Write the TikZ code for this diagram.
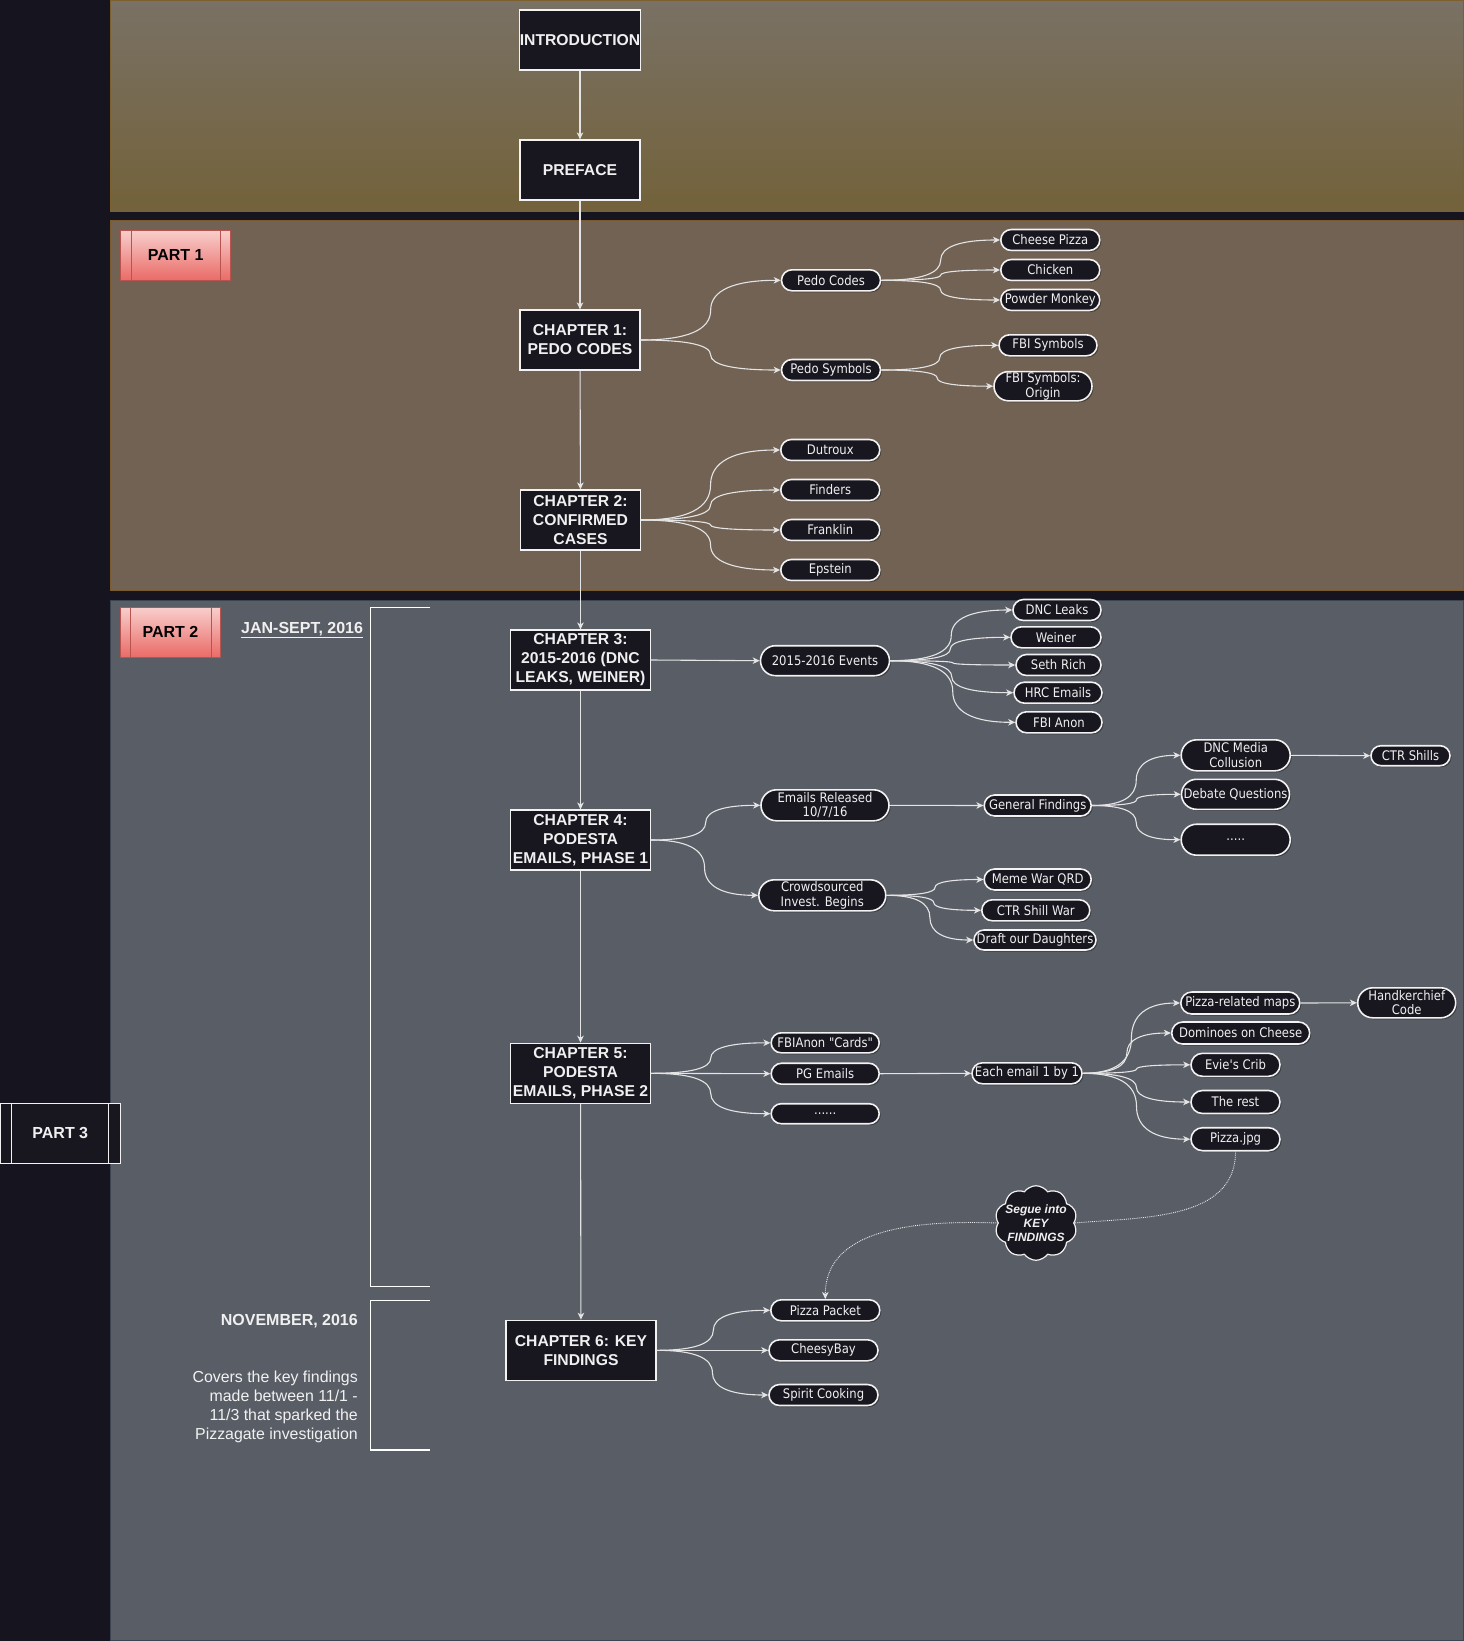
\documentclass[tikz,border=0pt]{standalone}
\usepackage{fontspec}
\setmainfont{Liberation Sans}
\newfontfamily\pillfont{DejaVu Sans}[FakeStretch=0.88]
\usepackage{xcolor}
\usepackage{tikz}
\usetikzlibrary{shapes.misc, shapes.symbols, arrows.meta, shadows, positioning, calc}
\definecolor{bgdark}{HTML}{16141E}
\definecolor{bandtop}{HTML}{797164}
\definecolor{bandbot}{HTML}{73623A}
\definecolor{bandedge}{HTML}{7C6030}
\definecolor{bandone}{HTML}{716254}
\definecolor{bandoneedge}{HTML}{7A5A30}
\definecolor{bandtwo}{HTML}{595D66}
\definecolor{bandtwoedge}{HTML}{3C4452}
\definecolor{boxbg}{HTML}{18161F}
\definecolor{boxline}{HTML}{F2F2F2}
\definecolor{txt}{HTML}{F0F0F0}
\definecolor{conn}{HTML}{E4E4E4}
\definecolor{parttop}{HTML}{F8CECC}
\definecolor{partbot}{HTML}{EA6B66}
\definecolor{partedge}{HTML}{B85450}
\tikzstyle{chapter} = [rectangle, draw=boxline, line width=1.2pt, fill=boxbg, text=txt, font=\bfseries\fontsize{15.7}{19}\selectfont, align=center, inner sep=0pt, minimum width=120pt, minimum height=60pt]
\tikzstyle{topic} = [rounded rectangle, draw=boxline, line width=1.6pt, fill=boxbg, text=txt, font=\pillfont\fontsize{13.2}{14.5}\selectfont, align=center, inner xsep=1pt, inner ysep=1pt, minimum width=100pt, minimum height=21pt, drop shadow={shadow xshift=1.5pt, shadow yshift=-1.5pt, opacity=0.35, fill=black}]
\tikzstyle{partbox} = [rectangle, draw=partedge, line width=1pt, top color=parttop, bottom color=partbot, text=black, font=\bfseries\fontsize{16}{18}\selectfont, minimum width=110pt, minimum height=50pt]
\tikzstyle{arrow} = [draw=conn, line width=1.1pt, -{Stealth[length=7pt, width=6.5pt, inset=2pt]}]
\tikzstyle{segue} = [draw=conn!85, line width=0.9pt, densely dotted]
\tikzstyle{bracket} = [draw=white, line width=1.2pt]
\tikzstyle{period} = [text=txt, font=\bfseries\fontsize{16}{18}\selectfont, inner sep=0pt]
\tikzset{elbow/.style={to path={let \p1=(\tikztostart), \p2=(\tikztotarget) in
  .. controls ({(2*\x1+\x2)/3},\y1) and ({(\x1+\x2)/2},{(5*\y1+\y2)/6}) .. ({(\x1+\x2)/2},{(\y1+\y2)/2})
  .. controls ({(\x1+\x2)/2},{(\y1+5*\y2)/6}) and ({(\x1+2*\x2)/3},\y2) .. (\tikztotarget) \tikztonodes}}}

\begin{document}
\begin{tikzpicture}[x=1pt, y=-1pt]
\useasboundingbox (0,0) rectangle (1464,1641);
% backdrop and bands
\fill [bgdark] (0,0) rectangle (1464,1641);
\path [draw=bandedge, top color=bandtop, bottom color=bandbot] (110,0.5) rectangle (1463,211);
\path [draw=bandoneedge, fill=bandone] (110,220) rectangle (1463,590);
\path [draw=bandtwoedge, fill=bandtwo] (110,600) rectangle (1463,1640);

% parts
\node (part1) [partbox] at (175.7,255.3) {PART 1};
\node (part2) [partbox, minimum width=100pt] at (170.5,632.3) {PART 2};
\node (part3) [partbox, draw=boxline, fill=boxbg, top color=boxbg, bottom color=boxbg, text=txt, minimum width=120pt, minimum height=60pt] at (60.3,1133.3) {PART 3};
\draw [partedge] ([xshift=11pt]part1.north west) -- ([xshift=11pt]part1.south west);
\draw [partedge] ([xshift=-11pt]part1.north east) -- ([xshift=-11pt]part1.south east);
\draw [partedge] ([xshift=10pt]part2.north west) -- ([xshift=10pt]part2.south west);
\draw [partedge] ([xshift=-10pt]part2.north east) -- ([xshift=-10pt]part2.south east);
\draw [boxline, line width=1.2pt] ([xshift=12pt]part3.north west) -- ([xshift=12pt]part3.south west);
\draw [boxline, line width=1.2pt] ([xshift=-12pt]part3.north east) -- ([xshift=-12pt]part3.south east);

% periods
\node (jansept) [period, anchor=base west] at (241,633) {\underline{JAN-SEPT, 2016}};
\node (november) [period, anchor=base east] at (358,1325) {NOVEMBER, 2016};
\node (novnote) [text=txt!92, font=\fontsize{15.9}{19}\selectfont, align=right, inner sep=0pt, anchor=north east] at (358,1370.5) {Covers the key findings\\made between 11/1 -\\11/3 that sparked the\\Pizzagate investigation};
\draw [bracket] (430,607.3) -- (370.7,607.3) -- (370.7,1286.7) -- (430,1286.7);
\draw [bracket] (430,1300.3) -- (370.7,1300.3) -- (370.7,1450) -- (430,1450);

% chapters
\node (intro) [chapter] at (580,40) {INTRODUCTION};
\node (preface) [chapter] at (580,170) {PREFACE};
\node (ch1) [chapter] at (580,340) {CHAPTER 1:\\PEDO CODES};
\node (ch2) [chapter] at (580.5,520) {CHAPTER 2:\\CONFIRMED\\CASES};
\node (ch3) [chapter, minimum width=140pt] at (580.5,660) {CHAPTER 3:\\2015-2016 (DNC\\LEAKS, WEINER)};
\node (ch4) [chapter, minimum width=140pt] at (580.5,840) {CHAPTER 4:\\PODESTA\\EMAILS, PHASE 1};
\node (ch5) [chapter, minimum width=140pt] at (580.5,1073.3) {CHAPTER 5:\\PODESTA\\EMAILS, PHASE 2};
\node (ch6) [chapter, minimum width=150pt] at (581,1350.3) {CHAPTER 6: KEY\\FINDINGS};

% chapter 1
\node (pedocodes) [topic, minimum width=101pt] at (831,280.3) {Pedo Codes};
\node (pedosymbols) [topic, minimum width=101pt] at (831,370) {Pedo Symbols};
\node (cheesepizza) [topic, minimum width=101pt] at (1050.3,240) {Cheese Pizza};
\node (chicken) [topic, minimum width=101pt] at (1050.3,270) {Chicken};
\node (powdermonkey) [topic, minimum width=101pt] at (1050.3,300) {Powder Monkey};
\node (fbisymbols) [topic] at (1048,345.3) {FBI Symbols};
\node (fbiorigin) [topic, minimum height=29pt] at (1043,386.2) {FBI Symbols:\\Origin};

% chapter 2
\node (dutroux) [topic, minimum width=101pt] at (830.3,450) {Dutroux};
\node (finders) [topic, minimum width=101pt] at (830.3,490) {Finders};
\node (franklin) [topic, minimum width=101pt] at (830.3,530) {Franklin};
\node (epstein) [topic, minimum width=101pt] at (830.3,570) {Epstein};

% chapter 3
\node (events) [topic, minimum width=131pt, minimum height=30pt] at (825,660.7) {2015-2016 Events};
\node (dncleaks) [topic, minimum width=90pt] at (1057,610) {DNC Leaks};
\node (weiner) [topic, minimum width=92pt] at (1056,637.3) {Weiner};
\node (sethrich) [topic, minimum width=87pt] at (1058.5,665) {Seth Rich};
\node (hrcemails) [topic, minimum width=90pt] at (1058,692.7) {HRC Emails};
\node (fbianon) [topic, minimum width=88pt] at (1059,722.3) {FBI Anon};

% chapter 4
\node (released) [topic, minimum width=130pt, minimum height=31pt] at (825,805.3) {Emails Released\\10/7/16};
\node (findings) [topic, minimum width=109pt] at (1037.7,805.5) {General Findings};
\node (dncmedia) [topic, minimum width=111pt, minimum height=31pt] at (1235.7,755.3) {DNC Media\\Collusion};
\node (ctrshills) [topic, minimum width=81pt, minimum height=20pt] at (1410.5,755.7) {CTR Shills};
\node (debate) [topic, minimum width=110pt, minimum height=30pt] at (1235.5,794.3) {Debate Questions};
\node (moreone) [topic, minimum width=111pt, minimum height=31pt] at (1235.7,839.7) {.....};
\node (crowd) [topic, minimum width=129pt, minimum height=31pt] at (822.3,895.3) {Crowdsourced\\Invest. Begins};
\node (memewar) [topic, minimum width=109pt] at (1037.7,879.5) {Meme War QRD};
\node (shillwar) [topic, minimum width=110pt] at (1035.8,910.3) {CTR Shill War};
\node (draft) [topic, minimum width=124pt, minimum height=20pt] at (1035,940) {Draft our Daughters};

% chapter 5
\node (cards) [topic, minimum width=110pt, minimum height=20pt] at (825.2,1042.8) {FBIAnon "Cards"};
\node (pgemails) [topic, minimum width=110pt] at (825.2,1073.7) {PG Emails};
\node (moretwo) [topic, minimum width=110pt, minimum height=20pt] at (825.2,1113.7) {......};
\node (eachemail) [topic, minimum width=112pt] at (1027,1073.3) {Each email 1 by 1};
\node (pizzamaps) [topic, minimum width=121pt, minimum height=22pt] at (1240.3,1003) {Pizza-related maps};
\node (hanky) [topic, minimum width=100pt, minimum height=30pt] at (1406.7,1002.8) {Handkerchief\\Code};
\node (dominoes) [topic, minimum width=140pt, minimum height=22pt] at (1240.7,1033) {Dominoes on Cheese};
\node (eviescrib) [topic, minimum width=91pt, minimum height=23pt] at (1235.5,1064.8) {Evie's Crib};
\node (therest) [topic, minimum width=91pt, minimum height=23pt] at (1235.5,1102) {The rest};
\node (pizzajpg) [topic, minimum width=91pt, minimum height=23pt] at (1235.5,1139.2) {Pizza.jpg};
\node (segue) [cloud, cloud puffs=10, cloud puff arc=110, aspect=1.15, draw=boxline, line width=1.2pt, fill=boxbg, text=txt, font=\bfseries\itshape\fontsize{12}{14}\selectfont, align=center, inner sep=-4pt, minimum width=82pt, minimum height=70pt] at (1036,1223) {Segue into\\KEY\\FINDINGS};

% chapter 6
\node (pizzapacket) [topic, minimum width=111pt] at (825.3,1310.3) {Pizza Packet};
\node (cheesybay) [topic, minimum width=111pt] at (823.5,1350.3) {CheesyBay};
\node (spirit) [topic, minimum width=111pt] at (823.5,1395) {Spirit Cooking};

% spine
\draw [arrow] (intro) -- (preface);
\draw [arrow] (preface) -- (ch1);
\draw [arrow] (ch1) -- (ch2);
\draw [arrow] (ch2) -- (ch3);
\draw [arrow] (ch3) -- (ch4);
\draw [arrow] (ch4) -- (ch5);
\draw [arrow] (ch5) -- (ch6);

% branches
\draw [arrow] (ch1.east) to[elbow] (pedocodes.west);
\draw [arrow] (ch1.east) to[elbow] (pedosymbols.west);
\draw [arrow] (pedocodes.east) to[elbow] (cheesepizza.west);
\draw [arrow] (pedocodes.east) to[elbow] (chicken.west);
\draw [arrow] (pedocodes.east) to[elbow] (powdermonkey.west);
\draw [arrow] (pedosymbols.east) to[elbow] (fbisymbols.west);
\draw [arrow] (pedosymbols.east) to[elbow] (fbiorigin.west);
\draw [arrow] (ch2.east) to[elbow] (dutroux.west);
\draw [arrow] (ch2.east) to[elbow] (finders.west);
\draw [arrow] (ch2.east) to[elbow] (franklin.west);
\draw [arrow] (ch2.east) to[elbow] (epstein.west);
\draw [arrow] (ch3.east) -- (events.west);
\draw [arrow] (events.east) to[elbow] (dncleaks.west);
\draw [arrow] (events.east) to[elbow] (weiner.west);
\draw [arrow] (events.east) to[elbow] (sethrich.west);
\draw [arrow] (events.east) to[elbow] (hrcemails.west);
\draw [arrow] (events.east) to[elbow] (fbianon.west);
\draw [arrow] (ch4.east) to[elbow] (released.west);
\draw [arrow] (ch4.east) to[elbow] (crowd.west);
\draw [arrow] (released.east) -- (findings.west);
\draw [arrow] (findings.east) to[elbow] (dncmedia.west);
\draw [arrow] (findings.east) to[elbow] (debate.west);
\draw [arrow] (findings.east) to[elbow] (moreone.west);
\draw [arrow] (dncmedia.east) -- (ctrshills.west);
\draw [arrow] (crowd.east) to[elbow] (memewar.west);
\draw [arrow] (crowd.east) to[elbow] (shillwar.west);
\draw [arrow] (crowd.east) to[elbow] (draft.west);
\draw [arrow] (ch5.east) to[elbow] (cards.west);
\draw [arrow] (ch5.east) -- (pgemails.west);
\draw [arrow] (ch5.east) to[elbow] (moretwo.west);
\draw [arrow] (pgemails.east) -- (eachemail.west);
\draw [arrow] (eachemail.east) to[elbow] (pizzamaps.west);
\draw [arrow] (eachemail.east) to[elbow] (dominoes.west);
\draw [arrow] (eachemail.east) to[elbow] (eviescrib.west);
\draw [arrow] (eachemail.east) to[elbow] (therest.west);
\draw [arrow] (eachemail.east) to[elbow] (pizzajpg.west);
\draw [arrow] (pizzamaps.east) -- (hanky.west);
\draw [segue] (pizzajpg.south) to[out=-90, in=5] (segue.east);
\draw [segue, -{Stealth[length=7pt, width=6.5pt, inset=2pt]}] (segue.west) to[out=178, in=90] (pizzapacket.north);
\draw [arrow] (ch6.east) to[elbow] (pizzapacket.west);
\draw [arrow] (ch6.east) -- (cheesybay.west);
\draw [arrow] (ch6.east) to[elbow] (spirit.west);
\end{tikzpicture}
\end{document}
